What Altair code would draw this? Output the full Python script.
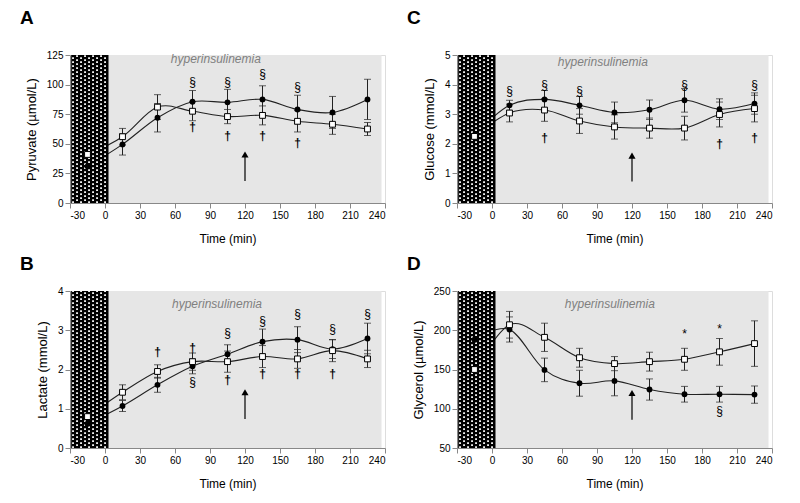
import altair as alt
import pandas as pd
import numpy as np

FONT = "Liberation Sans"

times = [-15, 15, 45, 75, 105, 135, 165, 195, 225]
x_ticks = [-30, 0, 30, 60, 90, 120, 150, 180, 210, 240]

# Panel A - Pyruvate
pyr_fill = [31, 49.5, 72, 85.5, 85, 87.5, 79, 76.5, 87.5]
pyr_fill_se = [0, 9, 12, 9.5, 11, 11.5, 12, 13.5, 17]
pyr_open = [41, 56, 81, 77.5, 73, 74, 69, 66.5, 62.5]
pyr_open_se = [0, 7, 10.5, 8, 6, 8, 9, 8.5, 5.5]
pyr_sec_t = [75, 105, 135, 165]
pyr_sec_y = [102, 102, 109, 98]
pyr_dag_t = [75, 105, 135, 165]
pyr_dag_y = [64, 57, 57, 51]

# Panel B - Lactate
lac_fill = [0.62, 1.07, 1.61, 2.08, 2.39, 2.71, 2.76, 2.52, 2.79]
lac_fill_se = [0, 0.14, 0.19, 0.19, 0.24, 0.32, 0.33, 0.24, 0.39]
lac_open = [0.8, 1.42, 1.95, 2.2, 2.2, 2.33, 2.27, 2.48, 2.27]
lac_open_se = [0, 0.19, 0.17, 0.22, 0.27, 0.28, 0.24, 0.28, 0.22]
lac_sec_t = [75, 105, 135, 165, 195, 225]
lac_sec_y = [1.69, 2.92, 3.24, 3.41, 3.04, 3.41]
lac_dag_t = [45, 75, 105, 135, 165, 195]
lac_dag_y = [2.44, 2.56, 1.72, 1.89, 1.89, 1.89]

# Panel C - Glucose
glu_fill = [2.3, 3.3, 3.5, 3.3, 3.06, 3.15, 3.47, 3.17, 3.36]
glu_fill_se = [0, 0.17, 0.3, 0.3, 0.35, 0.33, 0.4, 0.35, 0.36]
glu_open = [2.25, 3.04, 3.14, 2.77, 2.57, 2.53, 2.53, 2.99, 3.19]
glu_open_se = [0, 0.3, 0.38, 0.42, 0.41, 0.34, 0.4, 0.42, 0.45]
glu_sec_t = [15, 45, 75, 165, 225]
glu_sec_y = [3.77, 4.0, 3.77, 4.0, 4.0]
glu_dag_t = [45, 195, 225]
glu_dag_y = [2.21, 1.99, 2.21]

# Panel D - Glycerol
gly_fill = [188, 201, 149.5, 132.5, 135.5, 124.5, 118.5, 118.5, 118]
gly_fill_se = [0, 16, 15, 16.5, 19, 13.5, 10, 10, 11]
gly_open = [150, 207, 191, 165, 157.5, 160, 163, 172.5, 183]
gly_open_se = [0, 17, 18, 12, 9, 12, 14, 17, 29]
gly_ast_t = [165, 195]
gly_ast_y = [195, 201.5]
gly_sec_t = [195]
gly_sec_y = [97]

# shaded periods
clamp_start, clamp_end = 0, 237
basal_start, basal_end = -29, 3
arrow_t = 120


def panel(letter, ytitle, ydom, yvals, fil, fil_se, opn, opn_se, syms, arrow_y, lab_xy, h, toff):
    ymin, ymax = ydom
    W = 315
    xsc = alt.Scale(domain=[-30, 240], nice=False)
    ysc = alt.Scale(domain=[ymin, ymax], nice=False)
    xax = alt.Axis(values=x_ticks, title="Time (min)", grid=False, titlePadding=13,
                   titleFontWeight="normal", titleFontSize=12, labelExpr="'' + datum.value")
    yax = alt.Axis(values=yvals, title=ytitle, grid=False, titlePadding=8,
                   titleFontWeight="normal", titleFontSize=13, labelExpr="'' + datum.value")

    def X(f):
        return alt.X(f, scale=xsc, axis=xax)

    def Y(f):
        return alt.Y(f, scale=ysc, axis=yax)

    bg = alt.Chart(pd.DataFrame({"a": [clamp_start], "b": [clamp_end]})).mark_rect(
        color="#e6e6e6").encode(
        x=X("a:Q"), x2="b:Q",
        y=alt.Y(datum=ymin, scale=ysc, axis=yax), y2=alt.Y2(datum=ymax))

    df = pd.DataFrame({"t": times, "f": fil, "fse": fil_se, "o": opn, "ose": opn_se})
    df["flo"] = df.f - df.fse
    df["fhi"] = df.f + df.fse
    df["olo"] = df.o - df.ose
    df["ohi"] = df.o + df.ose
    base = alt.Chart(df)

    line_f = base.mark_line(color="#222", strokeWidth=1.1, interpolate="cardinal").encode(
        x=X("t:Q"), y=Y("f:Q"))
    line_o = base.mark_line(color="#222", strokeWidth=1.1, interpolate="cardinal").encode(
        x=X("t:Q"), y=Y("o:Q"))

    hatch = alt.Chart(pd.DataFrame({"a": [basal_start], "b": [basal_end]})).mark_rect(
        color="black").encode(
        x=X("a:Q"), x2="b:Q",
        y=alt.Y(datum=ymin, scale=ysc, axis=yax), y2=alt.Y2(datum=ymax))
    cols = np.arange(basal_start + 1.6, basal_end - 0.5, 3.43)
    dots = []
    for k, off in ((0, 0), (1, 2)):
        dots.append(alt.Chart(pd.DataFrame({"c": cols[k::2]})).mark_rule(
            color="white", strokeWidth=1.8, strokeDash=[1.8, 2.2], strokeDashOffset=off).encode(
            x=X("c:Q"),
            y=alt.Y(datum=ymin, scale=ysc, axis=yax), y2=alt.Y2(datum=ymax)))

    eb = base.transform_filter("datum.t > 0")
    err = []
    for lo, hi in (("flo", "fhi"), ("olo", "ohi")):
        err.append(eb.mark_rule(color="#222", strokeWidth=1).encode(
            x=X("t:Q"), y=Y(f"{lo}:Q"), y2=f"{hi}:Q"))
        for c in (lo, hi):
            err.append(eb.mark_tick(color="#222", orient="horizontal", size=7, thickness=1).encode(
                x=X("t:Q"), y=Y(f"{c}:Q")))

    pts_f = base.mark_circle(color="black", size=34, opacity=1).encode(
        x=X("t:Q"), y=Y("f:Q"))
    pts_o = base.mark_point(shape="square", filled=True, fill="white", stroke="black",
                            strokeWidth=1, size=34, opacity=1).encode(
        x=X("t:Q"), y=Y("o:Q"))

    texts = []
    for sym, ts, ys in syms:
        texts.append(alt.Chart(pd.DataFrame({"t": ts, "y": ys})).mark_text(
            text=sym, font=FONT, fontSize=12, color="black", baseline="middle",
            fontWeight="bold" if sym == "†" else "normal").encode(
            x=X("t:Q"), y=Y("y:Q")))

    adf = pd.DataFrame({"t": [arrow_t], "y0": [arrow_y[0]], "y1": [arrow_y[1]]})
    arr = alt.Chart(adf).mark_rule(color="black", strokeWidth=1.2).encode(
        x=X("t:Q"), y=Y("y0:Q"), y2="y1:Q")
    head = alt.Chart(adf).mark_point(shape="triangle-up", filled=True, color="black",
                                     size=50, opacity=1).encode(
        x=X("t:Q"), y=Y("y1:Q"))

    lab = alt.Chart(pd.DataFrame({"t": [lab_xy[0]], "y": [lab_xy[1]]})).mark_text(
        text="hyperinsulinemia", font=FONT, fontSize=12, fontStyle="italic",
        color="#808080", baseline="middle").encode(
        x=X("t:Q"), y=Y("y:Q"))

    layers = [bg, line_f, line_o, hatch] + dots + err + [pts_f, pts_o] + texts + [arr, head, lab]
    return alt.layer(*layers).properties(
        width=W, height=h,
        title=alt.TitleParams(letter, anchor="start", frame="group", fontSize=19,
                              fontWeight="bold", font=FONT, dx=-50, offset=toff, color="black"))


A = panel("A", "Pyruvate (µmol/L)", (0, 125), [0, 25, 50, 75, 100, 125],
          pyr_fill, pyr_fill_se, pyr_open, pyr_open_se,
          [("§", pyr_sec_t, pyr_sec_y), ("†", pyr_dag_t, pyr_dag_y)],
          (18.5, 41), (95, 122), 148, 22)
C = panel("C", "Glucose (mmol/L)", (0, 5), [0, 1, 2, 3, 4, 5],
          glu_fill, glu_fill_se, glu_open, glu_open_se,
          [("§", glu_sec_t, glu_sec_y), ("†", glu_dag_t, glu_dag_y)],
          (0.73, 1.6), (95, 4.76), 148, 22)
B = panel("B", "Lactate (mmol/L)", (0, 4), [0, 1, 2, 3, 4],
          lac_fill, lac_fill_se, lac_open, lac_open_se,
          [("§", lac_sec_t, lac_sec_y), ("†", lac_dag_t, lac_dag_y)],
          (0.74, 1.42), (96, 3.66), 157, 12)
D = panel("D", "Glycerol (µmol/L)", (50, 250), [50, 100, 150, 200, 250],
          gly_fill, gly_fill_se, gly_open, gly_open_se,
          [("*", gly_ast_t, gly_ast_y), ("§", gly_sec_t, gly_sec_y)],
          (86, 120), (101, 234), 157, 12)

chart = alt.vconcat(
    alt.hconcat(A, C, spacing=20),
    alt.hconcat(B, D, spacing=20),
    spacing=9,
).properties(
    padding={"left": 11, "top": 0, "right": 2, "bottom": 2}
).configure_view(stroke=None).configure_axis(
    labelFont=FONT, titleFont=FONT, labelFontSize=11, titleFontSize=12,
    titleFontWeight="normal", labelColor="black", titleColor="black",
    domainColor="black", tickColor="black", tickSize=5, labelPadding=3,
).configure(background="white")

chart.save("out.html", embed_options={"renderer": "svg", "actions": False})
